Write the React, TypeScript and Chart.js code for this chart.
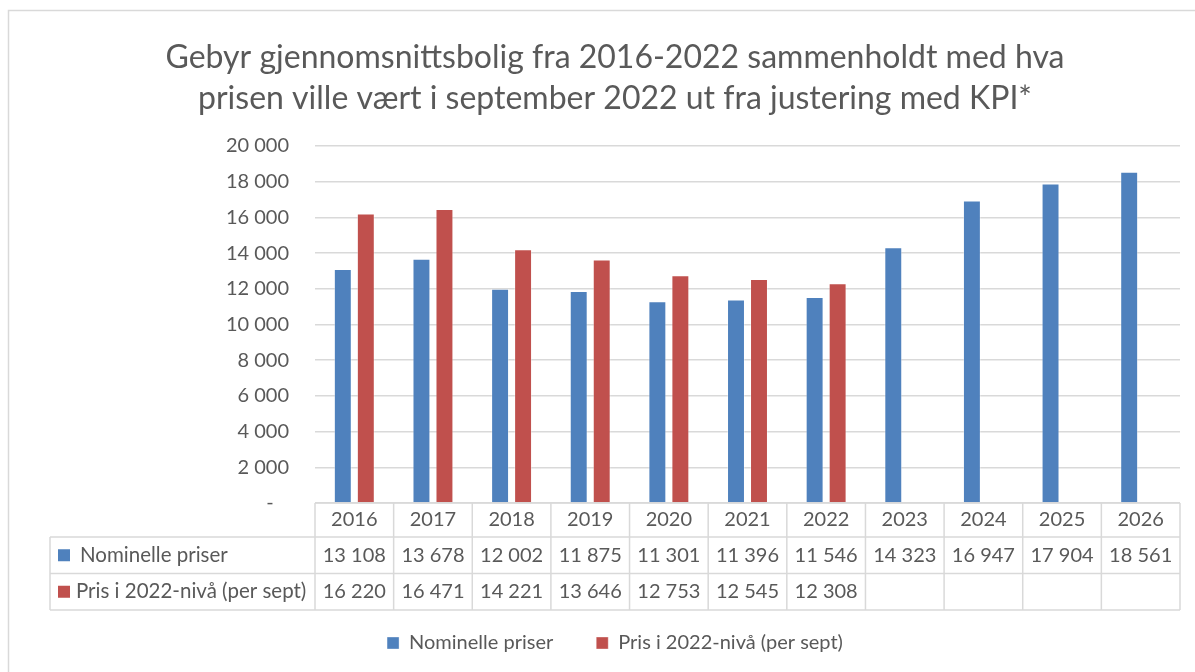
import React, { useEffect, useRef } from "react";
import { Chart, registerables } from "chart.js";

Chart.register(...registerables);

const categories = ["2016", "2017", "2018", "2019", "2020", "2021", "2022", "2023", "2024", "2025", "2026"];
const nominelle = [13108, 13678, 12002, 11875, 11301, 11396, 11546, 14323, 16947, 17904, 18561];
const pris2022 = [16220, 16471, 14221, 13646, 12753, 12545, 12308, null, null, null, null];
const seriesNames = ["Nominelle priser", "Pris i 2022-nivå (per sept)"];
const titleLines = [
  "Gebyr gjennomsnittsbolig fra 2016-2022 sammenholdt med hva",
  "prisen ville vært i september 2022 ut fra justering med KPI*",
];
const yMax = 20000;
const yStep = 2000;

const BLUE = "#4F81BD";
const RED = "#C0504D";
const TEXT = "#595959";
const LINE = "#D9D9D9";
const FONT = "Lato";
const PAD_LEFT = 50;

const fmt = (v: number) => String(v).replace(/\B(?=(\d{3})+(?!\d))/g, " ");

const borderPlugin = {
  id: "outerBorder",
  beforeDraw(chart: any) {
    const ctx = chart.ctx;
    ctx.save();
    ctx.fillStyle = "#ffffff";
    ctx.fillRect(0, 0, chart.width, chart.height);
    ctx.strokeStyle = LINE;
    ctx.lineWidth = 1.5;
    ctx.strokeRect(8.5, 10.5, chart.width + 20, chart.height + 20);
    ctx.restore();
  },
};

const tablePlugin = {
  id: "dataTable",
  afterDraw(chart: any) {
    const ctx = chart.ctx;
    const area = chart.chartArea;
    const xs = chart.scales.x;
    const n = categories.length;
    const colW = (area.right - area.left) / n;
    const top = area.bottom;
    const r1 = top + 34;
    const r2 = r1 + 36.5;
    const r3 = r2 + 36.5;
    const leftEdge = 50;
    ctx.save();
    ctx.strokeStyle = LINE;
    ctx.lineWidth = 1.5;
    ctx.beginPath();
    ctx.moveTo(area.left, top);
    ctx.lineTo(area.right, top);
    [r1, r2, r3].forEach((y) => {
      ctx.moveTo(leftEdge, y);
      ctx.lineTo(area.right, y);
    });
    ctx.moveTo(leftEdge, r1);
    ctx.lineTo(leftEdge, r3);
    for (let i = 0; i <= n; i++) {
      const x = area.left + i * colW;
      ctx.moveTo(x, top);
      ctx.lineTo(x, r3);
    }
    ctx.stroke();

    ctx.fillStyle = TEXT;
    ctx.font = `20px ${FONT}`;
    ctx.textAlign = "center";
    ctx.textBaseline = "middle";
    const rows = [nominelle, pris2022];
    const mids = [(r1 + r2) / 2, (r2 + r3) / 2];
    categories.forEach((c, i) => {
      const cx = xs.getPixelForValue(i);
      ctx.fillText(c, cx, (top + r1) / 2);
      rows.forEach((row, k) => {
        const v = row[i];
        if (v != null) ctx.fillText(fmt(v), cx, mids[k]);
      });
    });
    const colors = [BLUE, RED];
    const textX = [80, 76];
    ctx.font = `20.5px ${FONT}`;
    seriesNames.forEach((name, k) => {
      ctx.fillStyle = colors[k];
      ctx.fillRect(58, mids[k] - 6, 12, 12);
      ctx.fillStyle = TEXT;
      ctx.textAlign = "left";
      ctx.fillText(name, textX[k], mids[k]);
    });
    ctx.restore();
  },
};

export default function App() {
  const ref = useRef<HTMLCanvasElement | null>(null);
  useEffect(() => {
    document.body.style.margin = "0";
    if (!ref.current) return;
    const chart = new Chart(ref.current, {
      type: "bar",
      data: {
        labels: categories,
        datasets: [
          {
            label: seriesNames[0],
            data: nominelle,
            backgroundColor: BLUE,
            borderColor: "rgba(255,255,255,0.35)",
            borderWidth: 1,
            categoryPercentage: 0.585,
            barPercentage: 0.78,
          },
          {
            label: seriesNames[1],
            data: pris2022 as any,
            backgroundColor: RED,
            borderColor: "rgba(255,255,255,0.35)",
            borderWidth: 1,
            categoryPercentage: 0.585,
            barPercentage: 0.78,
          },
        ],
      },
      options: {
        animation: false,
        responsive: true,
        maintainAspectRatio: false,
        layout: { padding: { left: PAD_LEFT, right: 15, top: 0, bottom: 9 } },
        plugins: {
          title: {
            display: true,
            text: titleLines,
            color: TEXT,
            font: { family: FONT, size: 32, weight: "normal", lineHeight: 1.281 },
            padding: { top: 37, bottom: 27 },
          },
          legend: {
            position: "bottom",
            labels: {
              boxWidth: 12,
              boxHeight: 12,
              padding: 43,
              color: TEXT,
              font: { family: FONT, size: 20 },
            },
          },
          tooltip: { enabled: false },
        },
        scales: {
          x: {
            ticks: { display: false },
            grid: { display: false },
            border: { display: false },
            afterFit(scale: any) {
              scale.height = 87;
            },
          },
          y: {
            min: 0,
            max: yMax,
            ticks: {
              stepSize: yStep,
              padding: 26,
              color: TEXT,
              font: { family: FONT, size: 20 },
              callback: (v: any) => (Number(v) === 0 ? "-   " : fmt(Number(v))),
            },
            grid: { color: LINE, lineWidth: 1.5, drawTicks: false },
            border: { display: false },
            afterFit(scale: any) {
              scale.width = 315 - PAD_LEFT;
            },
          },
        },
      },
      plugins: [borderPlugin, tablePlugin],
    });
    return () => chart.destroy();
  }, []);
  return (
    <div style={{ position: "relative", width: 1195, height: 672 }}>
      <canvas ref={ref} />
    </div>
  );
}
